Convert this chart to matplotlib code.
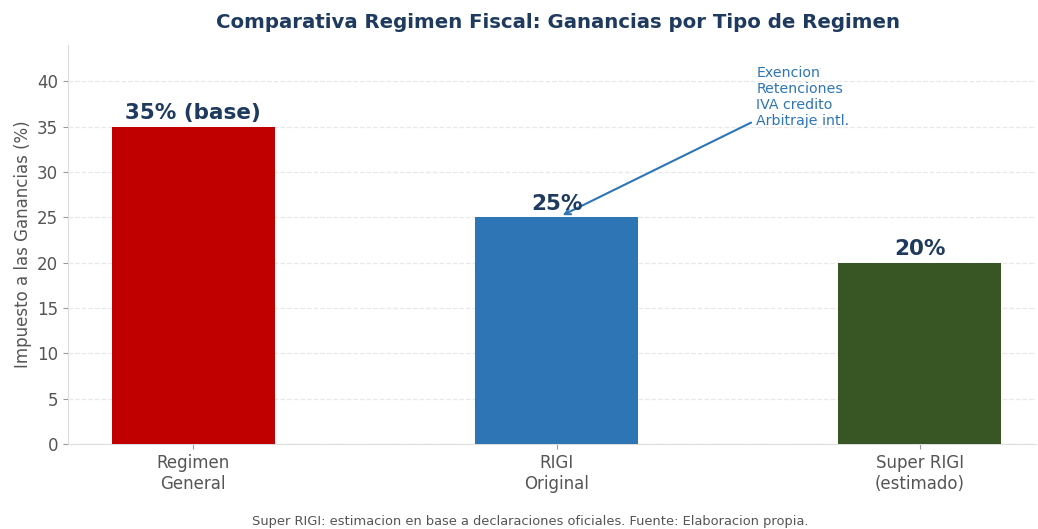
import matplotlib
matplotlib.use("Agg")
import matplotlib.pyplot as plt

categories = ["Regimen\nGeneral", "RIGI\nOriginal", "Super RIGI\n(estimado)"]
values = [35, 25, 20]
bar_labels = ["35% (base)", "25%", "20%"]
colors = ["#C00000", "#2E75B6", "#375623"]
note_text = "Exencion\nRetenciones\nIVA credito\nArbitraje intl."

fig = plt.figure(figsize=(10.38, 5.29), dpi=100)
ax = fig.add_axes([68/1038, 1-444/529, (1036-68)/1038, (444-45)/529])

x = list(range(len(categories)))
ax.bar(x, values, width=0.45, color=colors, zorder=3)
for xi, v, lab in zip(x, values, bar_labels):
    ax.text(xi, v + 0.4, lab, ha="center", va="bottom", fontsize=15.5,
            fontweight="bold", color="#1F3A5F", zorder=4)

ax.set_xlim(-0.345, 2.32)
ax.set_ylim(0, 44)
ax.set_yticks(range(0, 41, 5))
ax.set_xticks(x)
ax.set_xticklabels(categories, fontsize=12, color="#555555")
ax.tick_params(axis="y", labelsize=12, labelcolor="#555555", color="#999999")
ax.tick_params(axis="x", color="#999999")
ax.set_ylabel("Impuesto a las Ganancias (%)", fontsize=12, color="#555555")
ax.grid(axis="y", linestyle="--", color="#e8e8e8", linewidth=0.9, zorder=0)
for s in ["top", "right"]:
    ax.spines[s].set_visible(False)
for s in ["left", "bottom"]:
    ax.spines[s].set_color("#dddddd")

ax.annotate(note_text, xy=(1.01, 25.1), xytext=(1.55, 34.8),
            ha="left", va="bottom", fontsize=10.2, color="#2E75B6",
            linespacing=1.2,
            arrowprops=dict(arrowstyle="->", color="#2E75B6", lw=1.5))

fig.text(558/1038, 1-22/529, "Comparativa Regimen Fiscal: Ganancias por Tipo de Regimen",
         ha="center", va="center", fontsize=14.25, fontweight="bold", color="#1F3A5F")
fig.text(530/1038, 1-522/529, "Super RIGI: estimacion en base a declaraciones oficiales. Fuente: Elaboracion propia.",
         ha="center", va="center", fontsize=9.4, color="#555555")

fig.savefig("out.png", dpi=100)
